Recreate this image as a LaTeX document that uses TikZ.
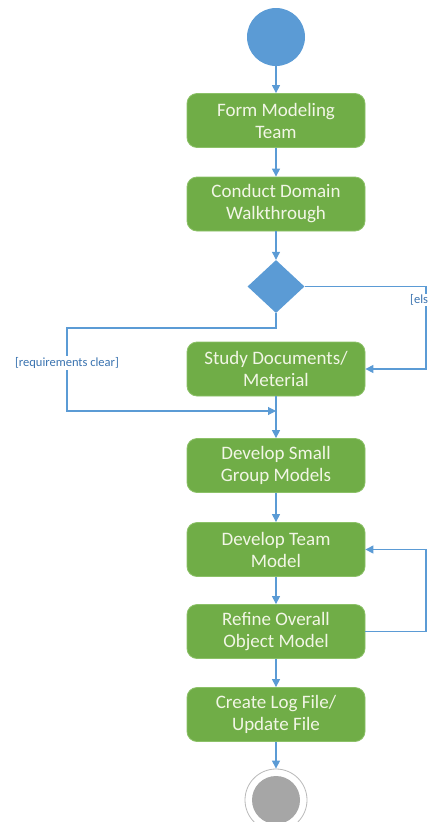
\documentclass[tikz,border=0pt]{standalone}
\usepackage{fontspec}
\setmainfont{Carlito}
\usetikzlibrary{shapes.geometric,arrows.meta}
\definecolor{actgreen}{HTML}{70AD47}
\definecolor{actedge}{HTML}{8CC168}
\definecolor{acttext}{HTML}{F2F6E6}
\definecolor{flowblue}{HTML}{5B9BD5}
\definecolor{guardblue}{HTML}{3A73B0}
\tikzset{
    act/.style={rectangle,rounded corners=10pt,fill=actgreen,draw=actedge,line width=0.8pt,
        minimum width=178pt,minimum height=54pt,inner sep=0pt,align=center,text=acttext,
        font=\fontsize{19}{22}\selectfont},
    flow/.style={draw=flowblue,line width=1.1pt,-{Triangle[length=8pt,width=8pt]}},
    guard/.style={font=\fontsize{12.5}{14}\selectfont,text=guardblue,inner sep=1pt}
}
\begin{document}
\begin{tikzpicture}[x=1pt,y=-1pt]
    \useasboundingbox (0,0) rectangle (432,822);
    % start and end
    \node[circle,fill=flowblue,minimum size=58pt,inner sep=0pt] (start) at (276,37) {};
    \node[circle,draw=gray!55,fill=white,line width=0.8pt,minimum size=62pt,inner sep=0pt] (stop) at (276,800) {};
    \node[circle,fill=gray!70,minimum size=48pt,inner sep=0pt] (stopdot) at (stop.center) {};
    % activities
    \node[act] (form) at (276,120.5) {Form Modeling\\Team};
    \node[act] (conduct) at (276,204) {Conduct Domain\\Walkthrough};
    \node[diamond,fill=flowblue,minimum width=57pt,minimum height=53pt,inner sep=0pt] (dec) at (276,286.5) {};
    \node[act] (study) at (276,369) {Study Documents/\\Meterial};
    \node[act] (small) at (276,465.5) {Develop Small\\Group Models};
    \node[act] (team) at (276,549.5) {Develop Team\\Model};
    \node[act] (refine) at (276,631.5) {Refine Overall\\Object Model};
    \node[act] (log) at (276,714.5) {Create Log File/\\Update File};
    % helper points
    \coordinate (eR) at (426,0);
    \coordinate (rq) at (67,328);
    \coordinate (join) at (276,411);
    % connectors
    \draw[flow] (start) -- (form);
    \draw[flow] (form) -- (conduct);
    \draw[flow] (conduct) -- (dec.north);
    \draw[flow] (dec.east) -- (dec.east -| eR) |- (study.east);
    \draw[flow] (dec.south) |- (rq) |- (join);
    \draw[flow] (study) -- (small);
    \draw[flow] (small) -- (team);
    \draw[flow] (team) -- (refine);
    \draw[flow] (refine.east) -- (refine.east -| eR) |- (team.east);
    \draw[flow] (refine) -- (log);
    \draw[flow] (log) -- (stop);
    % guards
    \node[guard,fill=white] (rqlabel) at (67,363) {[requirements clear]};
    \node[guard,fill=white,anchor=west] (elselabel) at (409,300) {[els};
\end{tikzpicture}
\end{document}
